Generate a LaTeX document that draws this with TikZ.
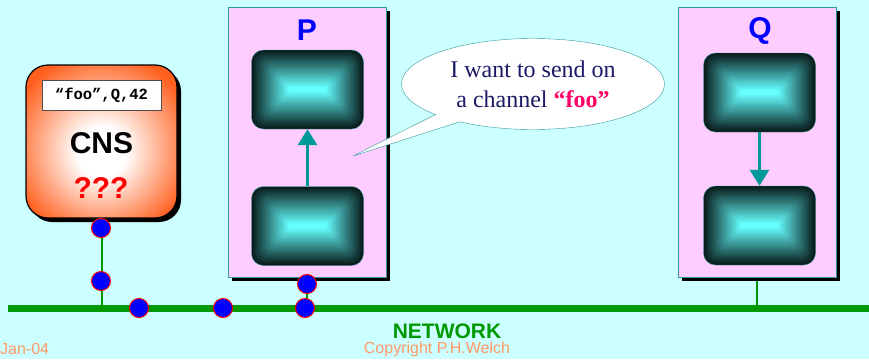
\documentclass[tikz,border=0pt]{standalone}
\usepackage{fontspec}
\setmainfont{Liberation Serif}
\setsansfont{Liberation Sans}
\setmonofont{Liberation Mono}
\usetikzlibrary{arrows.meta,shapes.callouts,shadows,calc}

\definecolor{sky}{RGB}{204,255,255}
\definecolor{lilac}{RGB}{255,204,255}
\definecolor{rim}{RGB}{51,153,153}
\definecolor{flowteal}{RGB}{0,153,153}
\definecolor{cellcyan}{RGB}{102,255,255}
\definecolor{celldark}{RGB}{8,26,26}
\definecolor{netgreen}{RGB}{0,153,0}
\definecolor{cnsorange}{RGB}{255,96,30}
\definecolor{talk}{RGB}{26,26,102}
\definecolor{foored}{RGB}{255,0,102}
\definecolor{salmon}{RGB}{255,153,102}

\pgfdeclareradialshading{cnsglow}{\pgfpoint{0bp}{-4bp}}{color(0bp)=(white); color(8bp)=(white); color(31bp)=(cnsorange); color(50bp)=(cnsorange)}

\pgfdeclarelayer{back}
\pgfdeclarelayer{wires}
\pgfsetlayers{back,wires,main}

\begin{document}
\begin{tikzpicture}[x=1pt, y=-1pt,
	proc/.style={draw=rim, fill=lilac, minimum width=158pt, minimum height=270pt, inner sep=0pt,
		drop shadow={shadow xshift=4pt, shadow yshift=-4pt, fill=black, opacity=1}},
	cell/.style={draw=rim, rounded corners=12pt, minimum width=112pt, minimum height=79pt, inner sep=0pt,
		path picture={
			\foreach \n in {0,...,33}{
				\pgfmathsetmacro\inset{1.12*\n}
				\pgfmathsetmacro\rad{max(11-0.3*\n,1.5)}
				\pgfmathtruncatemacro\mixpc{100*\n/33}
				\fill[cellcyan!\mixpc!celldark, rounded corners=\rad pt]
					($(path picture bounding box.south west)+(\inset pt,\inset pt)$) rectangle
					($(path picture bounding box.north east)+(-\inset pt,-\inset pt)$);
			}}},
	title/.style={text=blue, font=\sffamily\bfseries\fontsize{30}{36}\selectfont},
	flow/.style={draw=flowteal, line width=3pt, -{Triangle[width=19pt,length=16pt]}},
	net/.style={draw=netgreen, line width=7pt},
	drop/.style={draw=netgreen, line width=2pt},
	dot/.style={circle, draw=red, fill=blue, line width=1pt, minimum size=19pt, inner sep=0pt},
	foot/.style={text=salmon, font=\sffamily\fontsize{16}{18}\selectfont, inner sep=0pt}]

	\begin{pgfonlayer}{back}
		\fill[sky] (0,0) rectangle (869,359);
	\end{pgfonlayer}
	\useasboundingbox (0,0) rectangle (869,359);

	% name server
	\node[draw=black, line width=1.2pt, rounded corners=22pt, shading=cnsglow, minimum width=151pt, minimum height=153pt,
		drop shadow={shadow xshift=4pt, shadow yshift=-4pt, fill=black, opacity=1}] (cns) at (101.5,141.5) {};
	\node[draw=black!70, fill=white, minimum width=119pt, minimum height=30pt, inner sep=0pt,
		font=\ttfamily\bfseries\fontsize{15.5}{18}\selectfont] (cnstag) at (101.5,95) {“foo”,Q,42};
	\node[font=\sffamily\bfseries\fontsize{30}{36}\selectfont] (cnsname) at (101.5,143) {CNS};
	\node[text=red, font=\sffamily\bfseries\fontsize{30}{36}\selectfont] (cnsask) at (101,188) {???};

	% process P
	\node[proc] (P) at (307,142) {};
	\node[title] (Plab) at (307,30) {P};
	\node[cell] (P1) at (307.5,89.5) {};
	\node[cell] (P2) at (307.5,226) {};
	\draw[flow] (P2) -- (P1);

	% process Q
	\node[proc] (Q) at (757,142) {};
	\node[title] (Qlab) at (760,31) {Q};
	\node[cell] (Q1) at (759.5,92.5) {};
	\node[cell] (Q2) at (759.5,225.5) {};
	\draw[flow] (Q1) -- (Q2);

	% what P says
	\coordinate (tip) at (353,156);
	\node[ellipse callout, callout absolute pointer={(tip)}, callout pointer arc=14, draw=rim, fill=white,
		minimum width=263pt, minimum height=91pt, inner sep=2pt, align=center, text=talk,
		font=\fontsize{24}{30}\selectfont] (say) at (533,84) {I want to send on\\a channel \textcolor{foored}{\textbf{“foo”}}};

	% network
	\coordinate (netW) at (8,308);
	\coordinate (netE) at (869,308);
	\begin{pgfonlayer}{wires}
		\draw[net] (netW) -- (netE);
		\draw[drop] (cns.south) -- (cns.south |- netW);
		\draw[drop] (P.south) -- (P.south |- netW);
		\draw[drop] (Q.south) -- (Q.south |- netW);
	\end{pgfonlayer}

	\node[dot] (d1) at (101,228) {};
	\node[dot] (d2) at (101,281) {};
	\node[dot] (d3) at (139,308) {};
	\node[dot] (d4) at (223,308) {};
	\node[dot] (d5) at (305,308) {};
	\node[dot] (d6) at (307,284) {};

	\node[text=netgreen, inner sep=0pt, font=\sffamily\bfseries\fontsize{21}{24}\selectfont] (netlab) at (447,331) {NETWORK};
	\node[foot, anchor=west] (date) at (0,349) {Jan-04};
	\node[foot] (copy) at (437,349.5) {Copyright P.H.Welch};
\end{tikzpicture}
\end{document}
